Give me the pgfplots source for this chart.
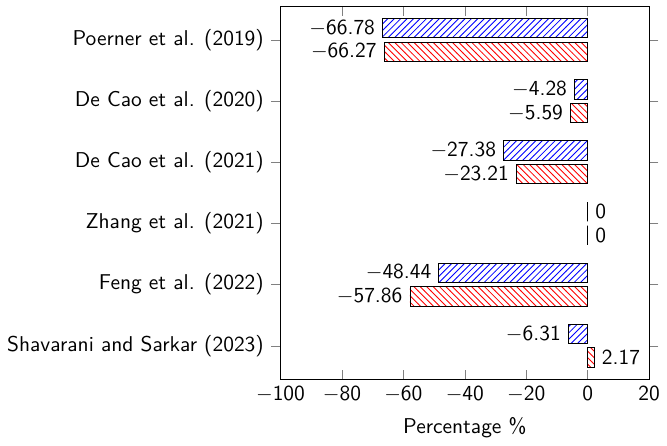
\documentclass[border=0pt]{standalone}
\usepackage{pgfplots}
\pgfplotsset{compat=1.18}
\usetikzlibrary{patterns}
\renewcommand{\familydefault}{\sfdefault}
\DeclareSymbolFont{sfdigits}{OT1}{cmss}{m}{n}
\DeclareMathSymbol{0}{\mathalpha}{sfdigits}{`0}
\DeclareMathSymbol{1}{\mathalpha}{sfdigits}{`1}
\DeclareMathSymbol{2}{\mathalpha}{sfdigits}{`2}
\DeclareMathSymbol{3}{\mathalpha}{sfdigits}{`3}
\DeclareMathSymbol{4}{\mathalpha}{sfdigits}{`4}
\DeclareMathSymbol{5}{\mathalpha}{sfdigits}{`5}
\DeclareMathSymbol{6}{\mathalpha}{sfdigits}{`6}
\DeclareMathSymbol{7}{\mathalpha}{sfdigits}{`7}
\DeclareMathSymbol{8}{\mathalpha}{sfdigits}{`8}
\DeclareMathSymbol{9}{\mathalpha}{sfdigits}{`9}
\DeclareMathSymbol{.}{\mathord}{sfdigits}{`.}
\begin{document}
\begin{tikzpicture}[font=\sffamily]
\begin{axis}[
  xbar,
  scale only axis,
  width=172pt, height=174pt,
  xmin=-100, xmax=20,
  xtick={-100,-80,-60,-40,-20,0,20},
  ymin=-0.55, ymax=5.55,
  y dir=reverse,
  ytick={0,1,2,3,4,5},
  yticklabels={Poerner et al. (2019),De Cao et al. (2020),De Cao et al. (2021),Zhang et al. (2021),Feng et al. (2022),Shavarani and Sarkar (2023)},
  bar width=9pt,
  xlabel={Percentage \%},
  point meta=explicit,
  nodes near coords,
  nodes near coords align={horizontal},
]
\addplot[draw=black, pattern=north west lines, pattern color=red] coordinates {
  (-66.27,0) [-66.27]
  (-5.59,1) [-5.59]
  (-23.21,2) [-23.21]
  (0,3) [0]
  (-57.86,4) [-57.86]
  (2.17,5) [2.17]
};
\addplot[draw=black, pattern=north east lines, pattern color=blue] coordinates {
  (-66.78,0) [-66.78]
  (-4.28,1) [-4.28]
  (-27.38,2) [-27.38]
  (0,3) [0]
  (-48.44,4) [-48.44]
  (-6.31,5) [-6.31]
};
\end{axis}
\path (current axis.north) ++(0,3pt) coordinate (topgap);
\end{tikzpicture}
\end{document}
